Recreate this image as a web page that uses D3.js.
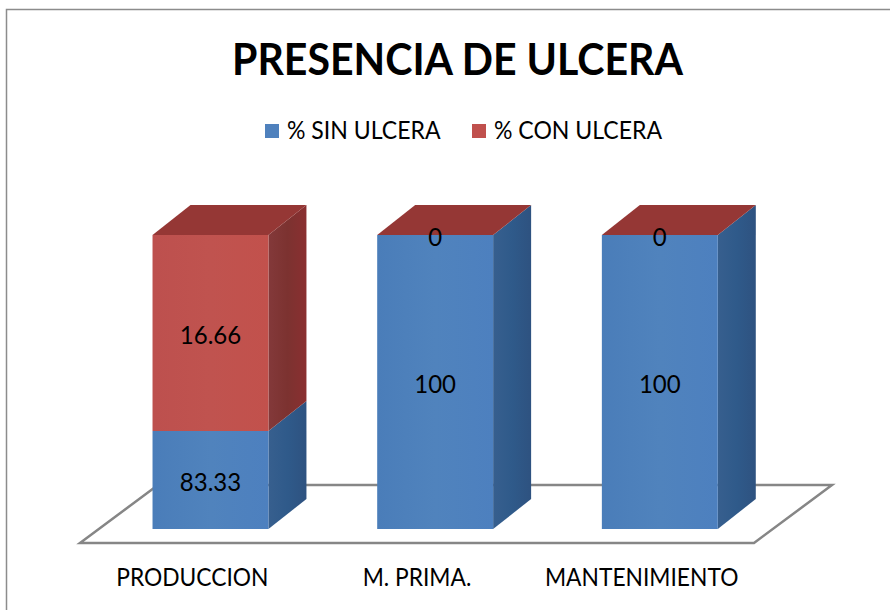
<!DOCTYPE html>
<html>
<head>
<meta charset="utf-8">
<style>
  html, body { margin: 0; padding: 0; background: #fff; }
  svg { display: block; }
  text { font-family: Lato, "Open Sans", sans-serif; fill: #000; }
</style>
</head>
<body>
<svg></svg>
<script src="https://cdnjs.cloudflare.com/ajax/libs/d3/7.8.5/d3.min.js"></script>
<script>
//--Data
const categories = ["PRODUCCION", "M. PRIMA.", "MANTENIMIENTO"];
const seriesNames = ["% SIN ULCERA", "% CON ULCERA"];
// printed labels
const sinLabels = ["83.33", "100", "100"];
const conLabels = ["16.66", "0", "0"];
// drawn lengths: in the reference the first bar is not split as its labels say
const sinLengths = [33.3, 100, 100];
const conLengths = [66.7, 0, 0];
const yTicks = [0, 100];

//Shared info
const canvas = { width: 890, height: 610 };
const floor = { left: 80, right: 754, front: 543, back: 485, dx: 78 };
const depth = { dx: 38, dy: 30, inset: 13.5 };

const colors = {
  blue: { front: "url(#blue-front)", side: "url(#blue-side)", swatch: "#4f81bd" },
  red: { front: "url(#red-front)", side: "url(#red-side)", top: "#953735", swatch: "#c0504d" }
};

const x = d3.scaleBand().domain(categories).range([floor.left, floor.right]).paddingInner(0.484).paddingOuter(0.242);
const y = d3.scaleLinear().domain(d3.extent(yTicks)).range([529, 235]);
const shift = depth.inset * floor.dx / (floor.front - floor.back);

const root = d3.select("svg").attr("width", canvas.width).attr("height", canvas.height);

//Lato runs wider than the reference font, so squeeze it a little
function condense(sel, factor) {
  sel.each(function () {
    d3.select(this)
      .attr("textLength", this.getComputedTextLength() * factor)
      .attr("lengthAdjust", "spacingAndGlyphs");
  });
}

//Gradients
const defs = root.append("defs");
function gradient(id, stops) {
  const g = defs.append("linearGradient").attr("id", id);
  stops.forEach((c, i) => g.append("stop").attr("offset", i / (stops.length - 1)).attr("stop-color", c));
}
gradient("blue-front", ["#4a7db9", "#5083bd", "#4d80bf"]);
gradient("blue-side", ["#375f8e", "#2f5a8a", "#2e5280"]);
gradient("red-front", ["#bd504e", "#c0534f", "#c2514c"]);
gradient("red-side", ["#83393a", "#7c3230", "#8a2f30"]);

//Frame
root.append("path")
  .attr("d", `M6.5,${canvas.height}V9.5H${canvas.width}`)
  .attr("fill", "none")
  .attr("stroke", "#8c8c8c")
  .attr("stroke-width", 1.5);

//Title
root.append("text")
  .attr("x", 457.5)
  .attr("y", 75)
  .attr("text-anchor", "middle")
  .style("font-size", "43px")
  .style("font-weight", 700)
  .text("PRESENCIA DE ULCERA")
  .call(condense, 0.955);

//Legend
const legendX = [265, 472];
const legend = root.append("g").selectAll("g").data(seriesNames).enter().append("g")
  .attr("transform", (d, i) => `translate(${legendX[i]},124)`);
legend.append("rect")
  .attr("width", 14)
  .attr("height", 14)
  .attr("fill", (d, i) => i === 0 ? colors.blue.swatch : colors.red.swatch);
legend.append("text")
  .attr("x", 22)
  .attr("y", 15)
  .style("font-size", "24.5px")
  .text(d => d)
  .call(condense, 0.94);

//Floor
root.append("path")
  .attr("d", d3.line()([
    [floor.left, floor.front],
    [floor.left + floor.dx, floor.back],
    [floor.right + floor.dx, floor.back],
    [floor.right, floor.front]
  ]) + "Z")
  .attr("fill", "#fff")
  .attr("stroke", "#868686")
  .attr("stroke-width", 2.5);

//Bars
const bars = root.append("g").selectAll("g").data(categories).enter().append("g");

function poly(sel, pts, fill) {
  sel.append("path").attr("d", d3.line()(pts) + "Z").attr("fill", fill);
}

bars.each(function (d, i) {
  const g = d3.select(this);
  const x0 = x(d) + shift, x1 = x0 + x.bandwidth();
  const yBase = y(0), ySplit = y(sinLengths[i]), yTop = y(sinLengths[i] + conLengths[i]);
  const dx = depth.dx, dy = depth.dy;

  //Side faces, then front faces, then the top
  poly(g, [[x1, yBase], [x1 + dx, yBase - dy], [x1 + dx, ySplit - dy], [x1, ySplit]], colors.blue.side);
  poly(g, [[x0, yBase], [x1, yBase], [x1, ySplit], [x0, ySplit]], colors.blue.front);
  if (conLengths[i] > 0) {
    poly(g, [[x1, ySplit], [x1 + dx, ySplit - dy], [x1 + dx, yTop - dy], [x1, yTop]], colors.red.side);
    poly(g, [[x0, ySplit], [x1, ySplit], [x1, yTop], [x0, yTop]], colors.red.front);
  }
  poly(g, [[x0, yTop], [x1, yTop], [x1 + dx, yTop - dy], [x0 + dx, yTop - dy]], colors.red.top);

  //Data labels
  const label = (txt, cy) => g.append("text")
    .attr("x", (x0 + x1) / 2)
    .attr("y", cy)
    .attr("dy", "0.36em")
    .attr("text-anchor", "middle")
    .style("font-size", "24.5px")
    .text(txt)
    .call(condense, 0.98);
  label(sinLabels[i], (yBase + ySplit) / 2 + 2);
  label(conLabels[i], conLengths[i] > 0 ? (ySplit + yTop) / 2 + 2 : yTop + 2);
});

//Category axis
const axis = root.append("g")
  .attr("transform", `translate(0,${floor.front})`)
  .call(d3.axisBottom(x).tickSize(0).tickPadding(26));
axis.select(".domain").remove();
axis.selectAll("text")
  .attr("fill", "#000")
  .style("font-family", "Lato, 'Open Sans', sans-serif")
  .style("font-size", "24.5px")
  .call(condense, 0.93);
</script>
</body>
</html>
